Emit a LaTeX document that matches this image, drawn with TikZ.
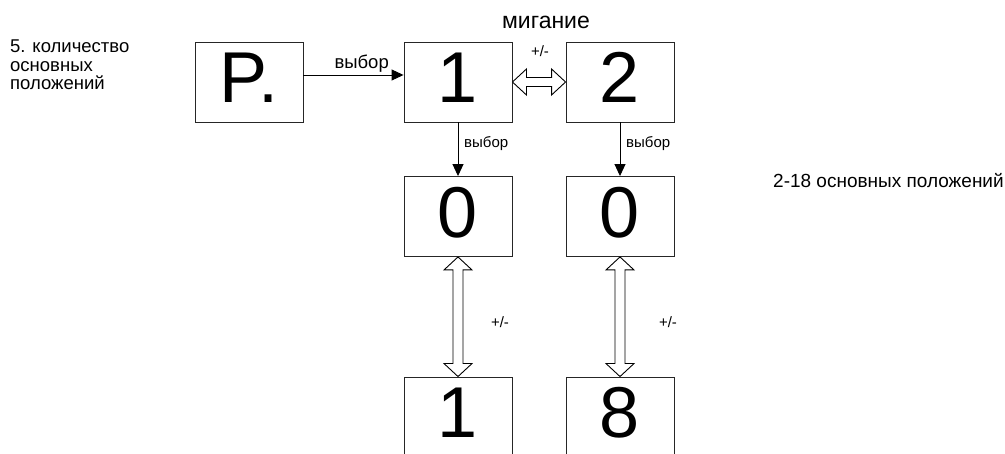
\documentclass[tikz,border=0pt]{standalone}
\usepackage{fontspec}
\setmainfont{Liberation Sans}
\usetikzlibrary{arrows.meta,calc}
\tikzset{
  digitbox/.style={draw=black!85, line width=0.9pt, minimum width=108pt, minimum height=80pt,
    inner sep=0pt, font=\fontsize{72}{72}\selectfont, text depth=9pt},
  conn/.style={draw=black, line width=0.9pt, -{Triangle[length=12pt,width=11pt]}},
  dbl/.style={draw=black, line width=0.9pt, fill=white},
  lbl/.style={inner sep=0pt, font=\fontsize{15}{15}\selectfont},
  biglbl/.style={inner sep=0pt, font=\fontsize{18.5}{18.5}\selectfont},
}
\begin{document}
\begin{tikzpicture}[x=1pt,y=-1pt]
\clip (0,0) rectangle (1005,454);
\fill[white] (0,0) rectangle (1005,454);
% boxes
\node[digitbox] (p)  at (249,82)    {P.};
\node[digitbox] (b1) at (458,82)    {1};
\node[digitbox] (b2) at (620,82)    {2};
\node[digitbox] (z1) at (458,216.5) {0};
\node[digitbox] (z2) at (620,216.5) {0};
\node[digitbox] (o1) at (458,417)   {1};
\node[digitbox] (o2) at (620,417)   {8};
% texts
\node[inner sep=0pt, font=\fontsize{23}{23}\selectfont, anchor=base] (blink) at (546,29) {мигание};
\node[biglbl, anchor=north west, align=left] (left) at (10,39.8) {5. количество\\основных\\положений};
\node[inner sep=0pt, font=\fontsize{19}{19}\selectfont, anchor=base west] (right) at (773,188) {2-18 основных положений};
% P -> 1
\coordinate (pa) at ($(p.east)+(0,-7)$);
\draw[conn] (pa) -- (pa -| b1.west);
\node[biglbl, anchor=base east] (l1) at (389,69) {выбор};
% down arrows
\draw[conn] (b1.south) -- (z1.north);
\draw[conn] (b2.south) -- (z2.north);
\node[lbl, anchor=base west] (l2) at (464,148) {выбор};
\node[lbl, anchor=base west] (l3) at (626,148) {выбор};
% horizontal double arrow
\coordinate (ha) at (b1.east);
\coordinate (hb) at (b2.west);
\draw[dbl] (ha) -- ($(ha)+(14,-13)$) -- ($(ha)+(14,-4.5)$) -- ($(hb)+(-14,-4.5)$) -- ($(hb)+(-14,-13)$)
  -- (hb) -- ($(hb)+(-14,13)$) -- ($(hb)+(-14,4.5)$) -- ($(ha)+(14,4.5)$) -- ($(ha)+(14,13)$) -- cycle;
\node[lbl, anchor=base] (l4) at (540,57) {+/-};
% vertical double arrows
\foreach \t/\b in {z1/o1, z2/o2}{
  \coordinate (va) at (\t.south);
  \coordinate (vb) at (\b.north);
  \draw[dbl] (va) -- ($(va)+(-14,13)$) -- ($(va)+(-5,13)$) -- ($(vb)+(-5,-13)$) -- ($(vb)+(-14,-13)$)
    -- (vb) -- ($(vb)+(14,-13)$) -- ($(vb)+(5,-13)$) -- ($(va)+(5,13)$) -- ($(va)+(14,13)$) -- cycle;
}
\node[lbl, anchor=base] (l5) at (500,328) {+/-};
\node[lbl, anchor=base] (l6) at (668,328) {+/-};
\end{tikzpicture}
\end{document}
